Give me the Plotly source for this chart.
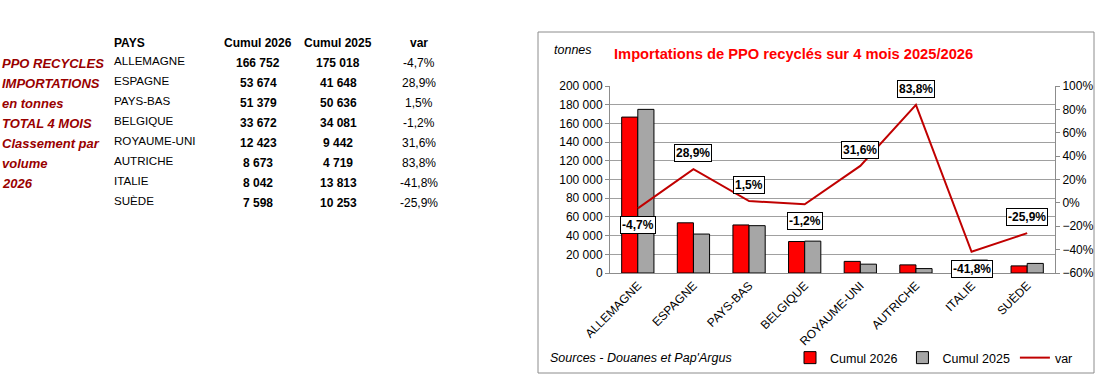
import plotly.graph_objects as go

# ---- data ----
countries = ["ALLEMAGNE", "ESPAGNE", "PAYS-BAS", "BELGIQUE", "ROYAUME-UNI", "AUTRICHE", "ITALIE", "SUÈDE"]
cumul_2026 = [166752, 53674, 51379, 33672, 12423, 8673, 8042, 7598]
cumul_2025 = [175018, 41648, 50636, 34081, 9442, 4719, 13813, 10253]
var_pct = [-4.7, 28.9, 1.5, -1.2, 31.6, 83.8, -41.8, -25.9]
label_side = [-1, 1, 1, -1, 1, 1, -1, 1]   # label below (-1) or above (+1) the point
side_lines = ["PPO RECYCLES", "IMPORTATIONS", "en tonnes", "TOTAL 4 MOIS", "Classement par", "volume", "2026"]
headers = ["PAYS", "Cumul 2026", "Cumul 2025", "var"]

FONT = "Arial, Liberation Sans, sans-serif"

# plot area in pixels
PL, PR, PT, PB = 610, 1055, 86, 273
W, H = 1105, 386


def px(x):
    return (x - PL) / (PR - PL)


def py(y):
    return (PB - y) / (PB - PT)


def fmt_int(v):
    return f"{v:,}".replace(",", " ")


def fmt_pct(v):
    return f"{v:.1f}%".replace(".", ",")


fig = go.Figure()
fig.add_trace(go.Bar(x=countries, y=cumul_2026, name="Cumul 2026",
                     marker=dict(color="#FF0000", line=dict(color="black", width=1))))
fig.add_trace(go.Bar(x=countries, y=cumul_2025, name="Cumul 2025",
                     marker=dict(color="#A6A6A6", line=dict(color="black", width=1))))
fig.add_trace(go.Scatter(x=countries, y=var_pct, name="var", yaxis="y2", mode="lines",
                         line=dict(color="#C00000", width=2)))

ann = []
# line labels
for c, v, s in zip(countries, var_pct, label_side):
    ann.append(dict(x=c, y=v, xref="x", yref="y2", text=fmt_pct(v), showarrow=False,
                    yshift=16 * s if s > 0 else -17, font=dict(family=FONT, size=12, color="black", weight="bold"),
                    bgcolor="white", bordercolor="black", borderwidth=1, borderpad=1))

# chart texts
ann.append(dict(x=px(793), y=py(54), xref="paper", yref="paper", text="<b>Importations de PPO recyclés sur 4 mois 2025/2026</b>",
                showarrow=False, font=dict(family=FONT, size=14.7, color="#FF0000"), xanchor="center", yanchor="middle"))
ann.append(dict(x=px(552), y=py(50), xref="paper", yref="paper", text="<i>tonnes</i>",
                showarrow=False, font=dict(family=FONT, size=12.5, color="black"), xanchor="left", yanchor="middle"))
ann.append(dict(x=px(548), y=py(358), xref="paper", yref="paper", text="<i>Sources - Douanes et Pap'Argus</i>",
                showarrow=False, font=dict(family=FONT, size=12.5, color="black"), xanchor="left", yanchor="middle"))

# left table
col_x = [112, 258, 338, 419]
head_y = 42.7
for i, h in enumerate(headers):
    ann.append(dict(x=px(col_x[i]), y=py(head_y), xref="paper", yref="paper", text=f"<b>{h}</b>", showarrow=False,
                    font=dict(family=FONT, size=12, color="black"),
                    xanchor="left" if i == 0 else "center", yanchor="middle"))
for r, c in enumerate(countries):
    yname = 60.7 + 20 * r
    ynum = 62.7 + 20 * r
    ann.append(dict(x=px(col_x[0]), y=py(yname), xref="paper", yref="paper", text=c, showarrow=False,
                    font=dict(family=FONT, size=11.6, color="black"), xanchor="left", yanchor="middle"))
    ann.append(dict(x=px(col_x[1]), y=py(ynum), xref="paper", yref="paper", text=f"<b>{fmt_int(cumul_2026[r])}</b>",
                    showarrow=False, font=dict(family=FONT, size=12, color="black"), xanchor="center", yanchor="middle"))
    ann.append(dict(x=px(col_x[2]), y=py(ynum), xref="paper", yref="paper", text=f"<b>{fmt_int(cumul_2025[r])}</b>",
                    showarrow=False, font=dict(family=FONT, size=12, color="black"), xanchor="center", yanchor="middle"))
    ann.append(dict(x=px(col_x[3]), y=py(ynum), xref="paper", yref="paper", text=fmt_pct(var_pct[r]),
                    showarrow=False, font=dict(family=FONT, size=12, color="black"), xanchor="center", yanchor="middle"))
for r, t in enumerate(side_lines):
    ann.append(dict(x=px(0), y=py(63.3 + 20 * r), xref="paper", yref="paper", text=f"<b><i>{t}</i></b>",
                    showarrow=False, font=dict(family=FONT, size=13, color="#990000"), xanchor="left", yanchor="middle"))

shapes = [dict(type="rect", xref="paper", yref="paper", x0=px(538), x1=px(1094), y0=py(373), y1=py(32),
               line=dict(color="#8C8C8C", width=1), fillcolor="rgba(0,0,0,0)", layer="below")]

fig.update_layout(
    width=W, height=H,
    margin=dict(l=PL, r=W - PR, t=PT, b=H - PB, autoexpand=False),
    paper_bgcolor="white", plot_bgcolor="white",
    separators=", ",
    barmode="group", bargap=0.42, bargroupgap=0,
    font=dict(family=FONT, size=12, color="black"),
    annotations=ann, shapes=shapes,
    showlegend=True,
    legend=dict(orientation="h", x=px(790), y=py(358), xanchor="left", yanchor="middle",
                font=dict(family=FONT, size=12.5, color="black"), bgcolor="rgba(0,0,0,0)",
                itemwidth=30, tracegroupgap=0),
    xaxis=dict(tickangle=-45, showline=True, linecolor="#8C8C8C", linewidth=1, ticks="",
               tickfont=dict(family=FONT, size=12), showgrid=False),
    yaxis=dict(range=[0, 200000], dtick=20000, tickformat=",d", showline=True, linecolor="#8C8C8C",
               ticks="outside", ticklen=4, tickcolor="#8C8C8C", showgrid=True, gridcolor="#A0A0A0",
               gridwidth=1, zeroline=False, tickfont=dict(family=FONT, size=12)),
    yaxis2=dict(range=[-60, 100], dtick=20, ticksuffix="%", overlaying="y", side="right", showline=True,
                linecolor="#8C8C8C", ticks="outside", ticklen=4, tickcolor="#8C8C8C", showgrid=False,
                zeroline=False, tickfont=dict(family=FONT, size=12)),
    hovermode=False,
)

fig.write_html("out.html")
